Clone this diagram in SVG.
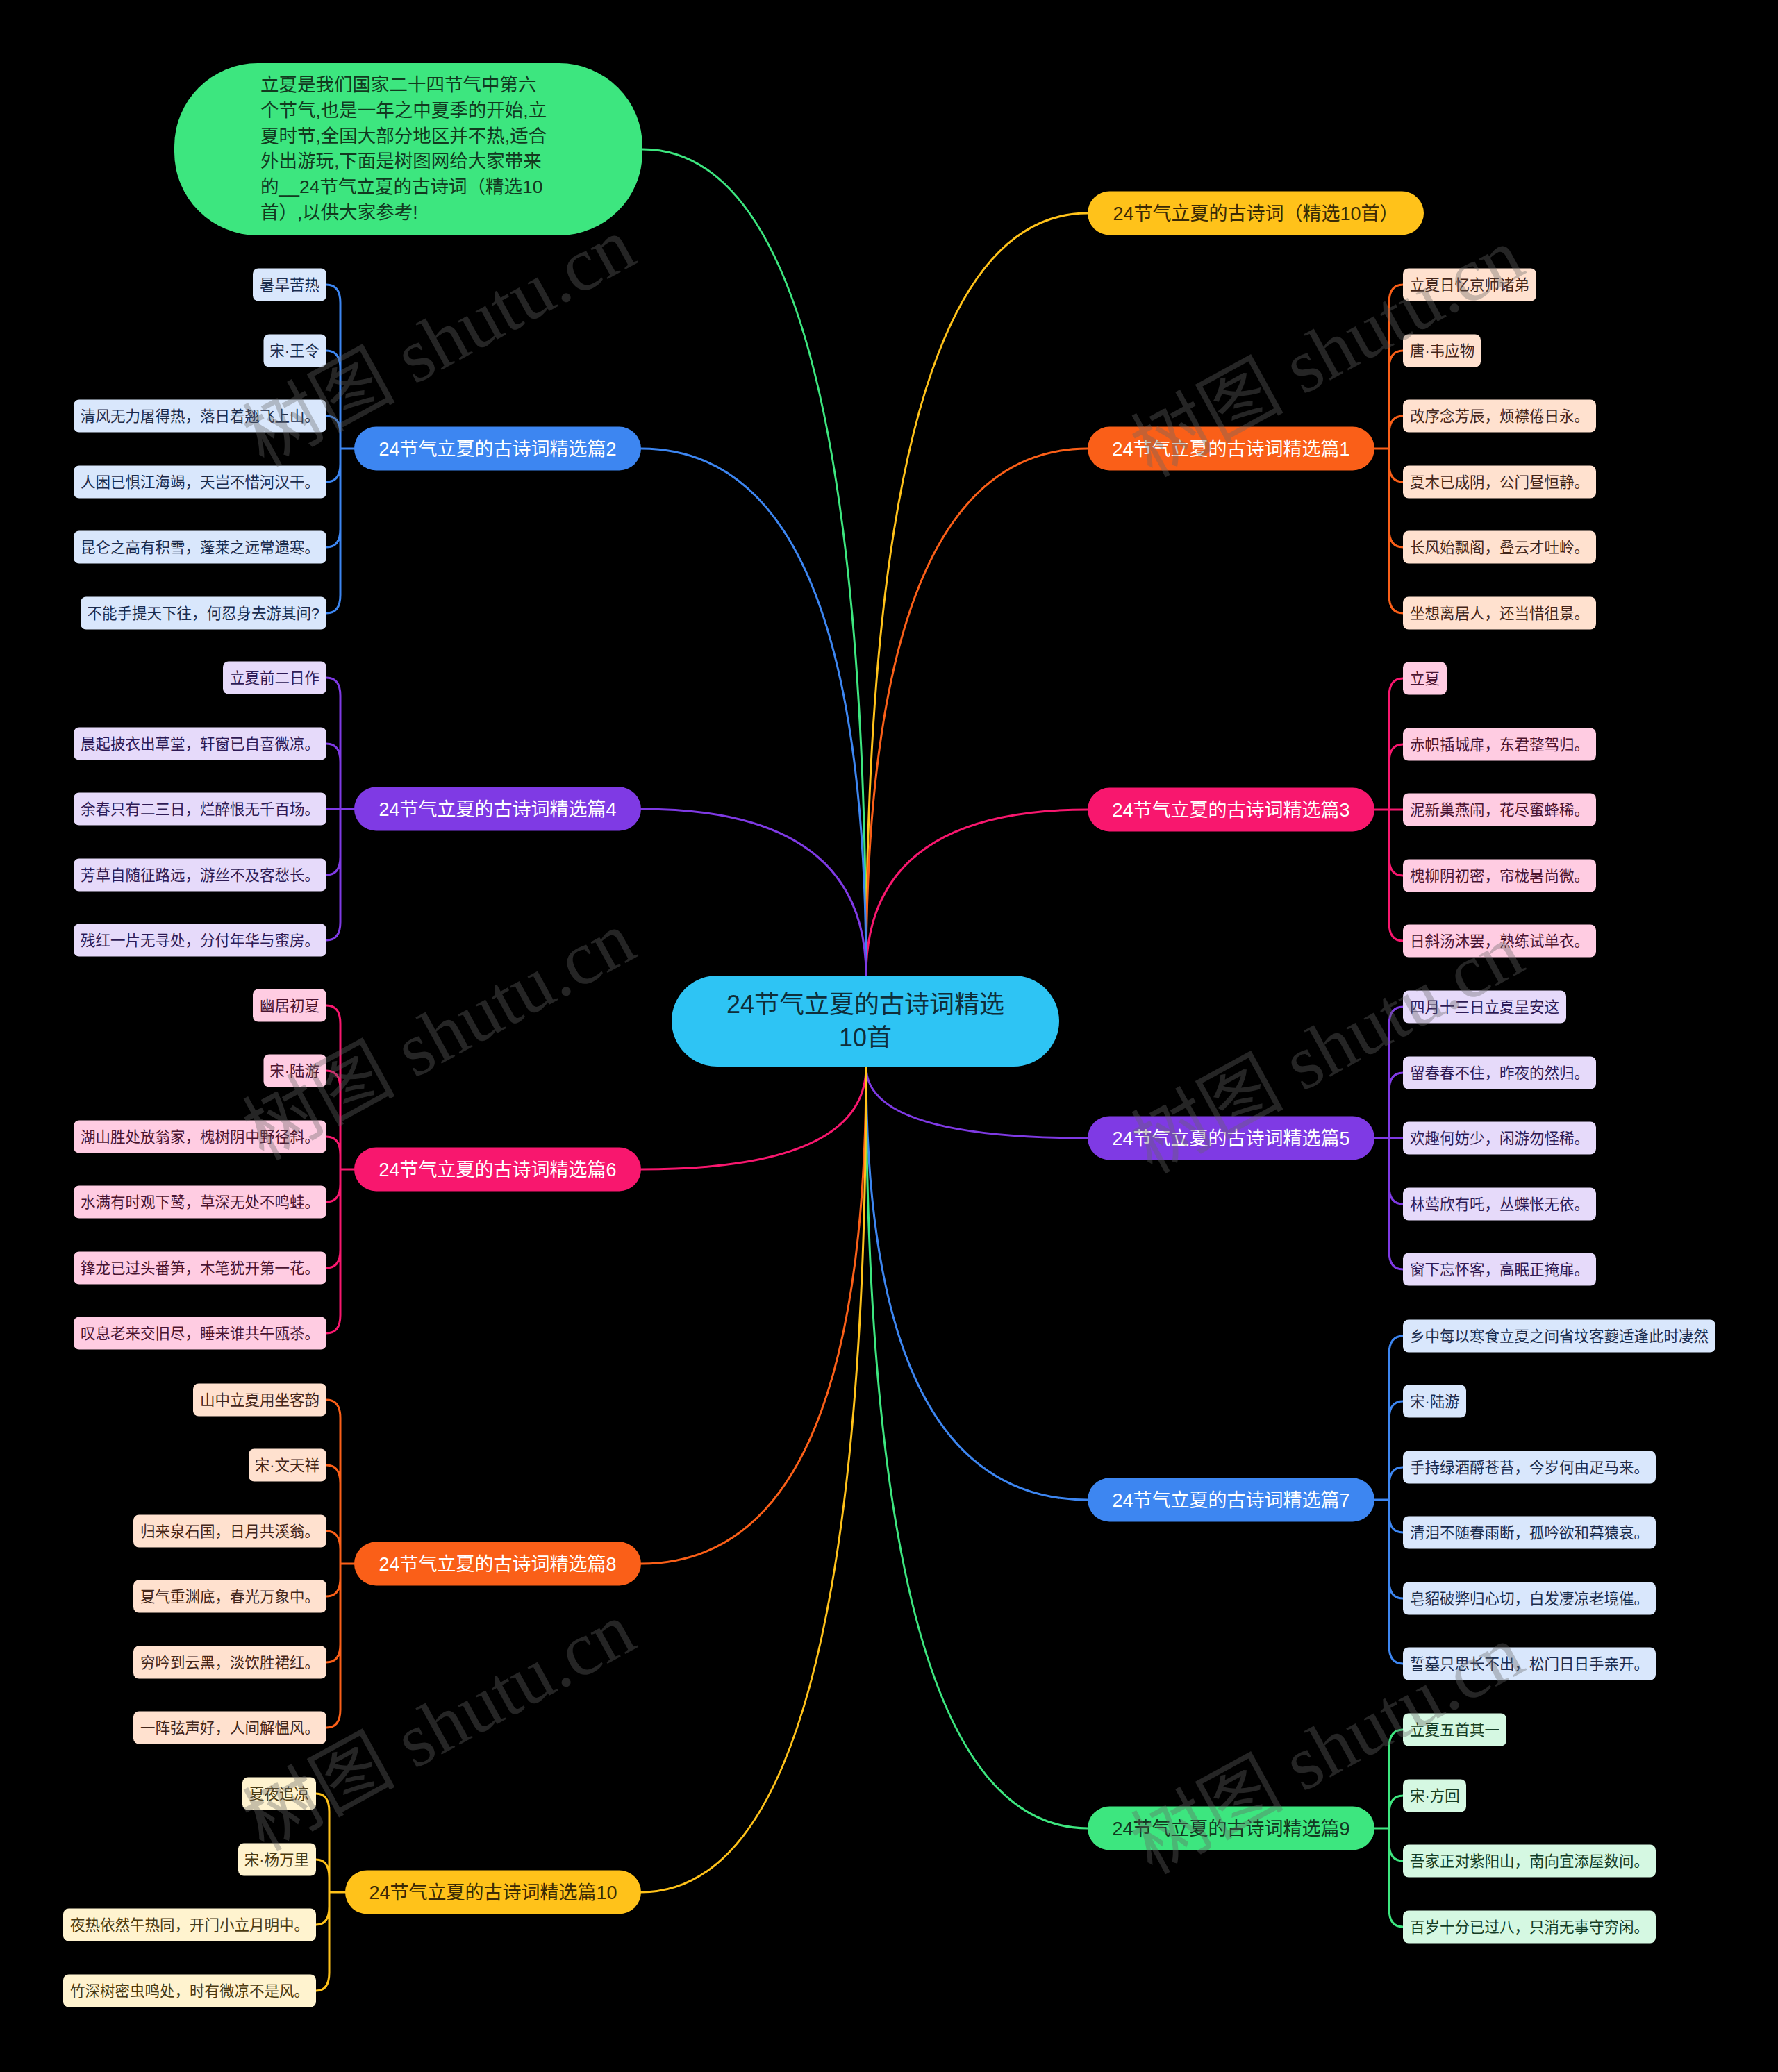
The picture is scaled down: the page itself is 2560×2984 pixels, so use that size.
<svg xmlns="http://www.w3.org/2000/svg" width="2560" height="2984" viewBox="0 0 2560 2984">
<style>
text{font-family:"Liberation Sans","Noto Sans CJK SC",sans-serif}
.c{fill:none;stroke-width:3;stroke-linecap:round}
.mt{font-size:27px;text-anchor:middle}
.lf{font-size:21.5px}
.le{font-size:21.5px;text-anchor:end}
.wm{font-family:"Liberation Serif","Noto Sans CJK SC",serif;font-size:110px;fill:#666;opacity:0.36;text-anchor:middle}
</style>
<rect width="2560" height="2984" fill="#000"/>
<g id="connectors">
<path class="c" stroke="#3DE67F" d="M925,215 Q1247,215 1247,1405"/>
<path class="c" stroke="#FFC21A" d="M1247,1405 Q1247,307 1566,307"/>
<path class="c" stroke="#FA5F18" d="M1247,1405 Q1247,646 1566,646"/>
<path class="c" stroke="#F8176E" d="M1247,1405 Q1247,1166 1566,1166"/>
<path class="c" stroke="#3D86F1" d="M1247,1405 Q1247,646 923,646"/>
<path class="c" stroke="#7F3AE4" d="M1247,1405 Q1247,1165 923,1165"/>
<path class="c" stroke="#7F3AE4" d="M1247,1536 Q1247,1639 1566,1639"/>
<path class="c" stroke="#F8176E" d="M1247,1536 Q1247,1684 923,1684"/>
<path class="c" stroke="#3D86F1" d="M1247,1536 Q1247,2160 1566,2160"/>
<path class="c" stroke="#FA5F18" d="M1247,1536 Q1247,2252 923,2252"/>
<path class="c" stroke="#3DE67F" d="M1247,1536 Q1247,2633 1566,2633"/>
<path class="c" stroke="#FFC21A" d="M1247,1536 Q1247,2725 923,2725"/>
<path class="c" stroke="#FA5F18" d="M1979,646 H2000 M2000,646 V436 Q2000,410 2020,410 M2000,646 V531 Q2000,505 2020,505 M2000,646 V625 Q2000,599 2020,599 M2000,646 V668 Q2000,694 2020,694 M2000,646 V762 Q2000,788 2020,788 M2000,646 V857 Q2000,883 2020,883"/>
<path class="c" stroke="#F8176E" d="M1979,1166 H2020 M2000,1166 V1003 Q2000,977 2020,977 M2000,1166 V1098 Q2000,1072 2020,1072 M2000,1166 V1235 Q2000,1261 2020,1261 M2000,1166 V1329 Q2000,1355 2020,1355"/>
<path class="c" stroke="#7F3AE4" d="M1979,1639 H2020 M2000,1639 V1476 Q2000,1450 2020,1450 M2000,1639 V1571 Q2000,1545 2020,1545 M2000,1639 V1708 Q2000,1734 2020,1734 M2000,1639 V1802 Q2000,1828 2020,1828"/>
<path class="c" stroke="#3D86F1" d="M1979,2160 H2000 M2000,2160 V1950 Q2000,1924 2020,1924 M2000,2160 V2044 Q2000,2018 2020,2018 M2000,2160 V2139 Q2000,2113 2020,2113 M2000,2160 V2181 Q2000,2207 2020,2207 M2000,2160 V2276 Q2000,2302 2020,2302 M2000,2160 V2370 Q2000,2396 2020,2396"/>
<path class="c" stroke="#3DE67F" d="M1979,2633 H2000 M2000,2633 V2517 Q2000,2491 2020,2491 M2000,2633 V2612 Q2000,2586 2020,2586 M2000,2633 V2654 Q2000,2680 2020,2680 M2000,2633 V2749 Q2000,2775 2020,2775"/>
<path class="c" stroke="#3D86F1" d="M510,646 H490 M490,646 V436 Q490,410 470,410 M490,646 V531 Q490,505 470,505 M490,646 V625 Q490,599 470,599 M490,646 V668 Q490,694 470,694 M490,646 V762 Q490,788 470,788 M490,646 V857 Q490,883 470,883"/>
<path class="c" stroke="#7F3AE4" d="M510,1165 H470 M490,1165 V1002 Q490,976 470,976 M490,1165 V1097 Q490,1071 470,1071 M490,1165 V1234 Q490,1260 470,1260 M490,1165 V1328 Q490,1354 470,1354"/>
<path class="c" stroke="#F8176E" d="M510,1684 H490 M490,1684 V1474 Q490,1448 470,1448 M490,1684 V1568 Q490,1542 470,1542 M490,1684 V1663 Q490,1637 470,1637 M490,1684 V1705 Q490,1731 470,1731 M490,1684 V1800 Q490,1826 470,1826 M490,1684 V1894 Q490,1920 470,1920"/>
<path class="c" stroke="#FA5F18" d="M510,2252 H490 M490,2252 V2042 Q490,2016 470,2016 M490,2252 V2136 Q490,2110 470,2110 M490,2252 V2231 Q490,2205 470,2205 M490,2252 V2273 Q490,2299 470,2299 M490,2252 V2368 Q490,2394 470,2394 M490,2252 V2462 Q490,2488 470,2488"/>
<path class="c" stroke="#FFC21A" d="M497,2725 H474 M474,2725 V2609 Q474,2583 455,2583 M474,2725 V2704 Q474,2678 455,2678 M474,2725 V2746 Q474,2772 455,2772 M474,2725 V2841 Q474,2867 455,2867"/>
</g>

<g id="root">
<rect x="967" y="1405" width="558" height="131" rx="65.5" fill="#2EC4F4"/>
<text x="1246" y="1459" font-size="36" text-anchor="middle" fill="#0f2e3a">24节气立夏的古诗词精选</text>
<text x="1246" y="1507" font-size="36" text-anchor="middle" fill="#0f2e3a">10首</text>
</g>

<g id="intro">
<rect x="251" y="91" width="674" height="248" rx="120" fill="#3DE67F"/>
<g font-size="26.5" fill="#123a1f">
<text x="375" y="131">立夏是我们国家二十四节气中第六</text>
<text x="375" y="168">个节气,也是一年之中夏季的开始,立</text>
<text x="375" y="205">夏时节,全国大部分地区并不热,适合</text>
<text x="375" y="241">外出游玩,下面是树图网给大家带来</text>
<text x="375" y="278">的__24节气立夏的古诗词（精选10</text>
<text x="375" y="315">首）,以供大家参考!</text>
</g>
</g>

<g id="main-title">
<rect x="1566" y="275.5" width="484" height="63" rx="31.5" fill="#FFC21A"/>
<text class="mt" x="1808" y="317" fill="#3a2a05">24节气立夏的古诗词（精选10首）</text>
</g>

<g id="p1">
<rect x="1566" y="614.5" width="413" height="63" rx="31.5" fill="#FA5F18"/>
<text class="mt" x="1772.5" y="656" fill="#fff">24节气立夏的古诗词精选篇1</text>
<g fill="#FFE1CF">
<rect x="2020" y="386.5" width="192" height="47" rx="8"/>
<rect x="2020" y="481.5" width="112" height="47" rx="8"/>
<rect x="2020" y="575.5" width="278" height="47" rx="8"/>
<rect x="2020" y="670.5" width="278" height="47" rx="8"/>
<rect x="2020" y="764.5" width="278" height="47" rx="8"/>
<rect x="2020" y="859.5" width="278" height="47" rx="8"/>
</g>
<g fill="#43261a">
<text class="lf" x="2030" y="418">立夏日忆京师诸弟</text>
<text class="lf" x="2030" y="513">唐·韦应物</text>
<text class="lf" x="2030" y="607">改序念芳辰，烦襟倦日永。</text>
<text class="lf" x="2030" y="702">夏木已成阴，公门昼恒静。</text>
<text class="lf" x="2030" y="796">长风始飘阁，叠云才吐岭。</text>
<text class="lf" x="2030" y="891">坐想离居人，还当惜徂景。</text>
</g>
</g>

<g id="p3">
<rect x="1566" y="1134.5" width="413" height="63" rx="31.5" fill="#F8176E"/>
<text class="mt" x="1772.5" y="1176" fill="#fff">24节气立夏的古诗词精选篇3</text>
<g fill="#FFCCE2">
<rect x="2020" y="953.5" width="63" height="47" rx="8"/>
<rect x="2020" y="1048.5" width="278" height="47" rx="8"/>
<rect x="2020" y="1142.5" width="278" height="47" rx="8"/>
<rect x="2020" y="1237.5" width="278" height="47" rx="8"/>
<rect x="2020" y="1331.5" width="278" height="47" rx="8"/>
</g>
<g fill="#4a1430">
<text class="lf" x="2030" y="985">立夏</text>
<text class="lf" x="2030" y="1080">赤帜插城扉，东君整驾归。</text>
<text class="lf" x="2030" y="1174">泥新巢燕闹，花尽蜜蜂稀。</text>
<text class="lf" x="2030" y="1269">槐柳阴初密，帘栊暑尚微。</text>
<text class="lf" x="2030" y="1363">日斜汤沐罢，熟练试单衣。</text>
</g>
</g>

<g id="p5">
<rect x="1566" y="1607.5" width="413" height="63" rx="31.5" fill="#7F3AE4"/>
<text class="mt" x="1772.5" y="1649" fill="#fff">24节气立夏的古诗词精选篇5</text>
<g fill="#E6DAFA">
<rect x="2020" y="1426.5" width="235" height="47" rx="8"/>
<rect x="2020" y="1521.5" width="278" height="47" rx="8"/>
<rect x="2020" y="1615.5" width="278" height="47" rx="8"/>
<rect x="2020" y="1710.5" width="278" height="47" rx="8"/>
<rect x="2020" y="1804.5" width="278" height="47" rx="8"/>
</g>
<g fill="#2e1a55">
<text class="lf" x="2030" y="1458">四月十三日立夏呈安这</text>
<text class="lf" x="2030" y="1553">留春春不住，昨夜的然归。</text>
<text class="lf" x="2030" y="1647">欢趣何妨少，闲游勿怪稀。</text>
<text class="lf" x="2030" y="1742">林莺欣有吒，丛蝶怅无依。</text>
<text class="lf" x="2030" y="1836">窗下忘怀客，高眠正掩扉。</text>
</g>
</g>

<g id="p7">
<rect x="1566" y="2128.5" width="413" height="63" rx="31.5" fill="#3D86F1"/>
<text class="mt" x="1772.5" y="2170" fill="#fff">24节气立夏的古诗词精选篇7</text>
<g fill="#D9E7FC">
<rect x="2020" y="1900.5" width="450" height="47" rx="8"/>
<rect x="2020" y="1994.5" width="91" height="47" rx="8"/>
<rect x="2020" y="2089.5" width="364" height="47" rx="8"/>
<rect x="2020" y="2183.5" width="364" height="47" rx="8"/>
<rect x="2020" y="2278.5" width="364" height="47" rx="8"/>
<rect x="2020" y="2372.5" width="364" height="47" rx="8"/>
</g>
<g fill="#1b2c4d">
<text class="lf" x="2030" y="1932">乡中每以寒食立夏之间省坟客夔适逢此时凄然</text>
<text class="lf" x="2030" y="2026">宋·陆游</text>
<text class="lf" x="2030" y="2121">手持绿酒酹苍苔，今岁何由疋马来。</text>
<text class="lf" x="2030" y="2215">清泪不随春雨断，孤吟欲和暮猿哀。</text>
<text class="lf" x="2030" y="2310">皂貂破弊归心切，白发凄凉老境催。</text>
<text class="lf" x="2030" y="2404">誓墓只思长不出，松门日日手亲开。</text>
</g>
</g>

<g id="p9">
<rect x="1566" y="2601.5" width="413" height="63" rx="31.5" fill="#3DE67F"/>
<text class="mt" x="1772.5" y="2643" fill="#123a1f">24节气立夏的古诗词精选篇9</text>
<g fill="#D5F8E2">
<rect x="2020" y="2467.5" width="149" height="47" rx="8"/>
<rect x="2020" y="2562.5" width="91" height="47" rx="8"/>
<rect x="2020" y="2656.5" width="364" height="47" rx="8"/>
<rect x="2020" y="2751.5" width="364" height="47" rx="8"/>
</g>
<g fill="#143d25">
<text class="lf" x="2030" y="2499">立夏五首其一</text>
<text class="lf" x="2030" y="2594">宋·方回</text>
<text class="lf" x="2030" y="2688">吾家正对紫阳山，南向宜添屋数间。</text>
<text class="lf" x="2030" y="2783">百岁十分已过八，只消无事守穷闲。</text>
</g>
</g>

<g id="p2">
<rect x="510" y="614.5" width="413" height="63" rx="31.5" fill="#3D86F1"/>
<text class="mt" x="716.5" y="656" fill="#fff">24节气立夏的古诗词精选篇2</text>
<g fill="#D9E7FC">
<rect x="364" y="386.5" width="106" height="47" rx="8"/>
<rect x="379.5" y="481.5" width="90.5" height="47" rx="8"/>
<rect x="106" y="575.5" width="364" height="47" rx="8"/>
<rect x="106" y="670.5" width="364" height="47" rx="8"/>
<rect x="106" y="764.5" width="364" height="47" rx="8"/>
<rect x="116" y="859.5" width="354" height="47" rx="8"/>
</g>
<g fill="#1b2c4d">
<text class="le" x="460" y="418">暑旱苦热</text>
<text class="le" x="460" y="513">宋·王令</text>
<text class="le" x="460" y="607">清风无力屠得热，落日着翘飞上山。</text>
<text class="le" x="460" y="702">人困已惧江海竭，天岂不惜河汉干。</text>
<text class="le" x="460" y="796">昆仑之高有积雪，蓬莱之远常遗寒。</text>
<text class="le" x="460" y="891">不能手提天下往，何忍身去游其间?</text>
</g>
</g>

<g id="p4">
<rect x="510" y="1133.5" width="413" height="63" rx="31.5" fill="#7F3AE4"/>
<text class="mt" x="716.5" y="1175" fill="#fff">24节气立夏的古诗词精选篇4</text>
<g fill="#E6DAFA">
<rect x="321" y="952.5" width="149" height="47" rx="8"/>
<rect x="106" y="1047.5" width="364" height="47" rx="8"/>
<rect x="106" y="1141.5" width="364" height="47" rx="8"/>
<rect x="106" y="1236.5" width="364" height="47" rx="8"/>
<rect x="106" y="1330.5" width="364" height="47" rx="8"/>
</g>
<g fill="#2e1a55">
<text class="le" x="460" y="984">立夏前二日作</text>
<text class="le" x="460" y="1079">晨起披衣出草堂，轩窗已自喜微凉。</text>
<text class="le" x="460" y="1173">余春只有二三日，烂醉恨无千百场。</text>
<text class="le" x="460" y="1268">芳草自随征路远，游丝不及客愁长。</text>
<text class="le" x="460" y="1362">残红一片无寻处，分付年华与蜜房。</text>
</g>
</g>

<g id="p6">
<rect x="510" y="1652.5" width="413" height="63" rx="31.5" fill="#F8176E"/>
<text class="mt" x="716.5" y="1694" fill="#fff">24节气立夏的古诗词精选篇6</text>
<g fill="#FFCCE2">
<rect x="364" y="1424.5" width="106" height="47" rx="8"/>
<rect x="379.5" y="1518.5" width="90.5" height="47" rx="8"/>
<rect x="106" y="1613.5" width="364" height="47" rx="8"/>
<rect x="106" y="1707.5" width="364" height="47" rx="8"/>
<rect x="106" y="1802.5" width="364" height="47" rx="8"/>
<rect x="106" y="1896.5" width="364" height="47" rx="8"/>
</g>
<g fill="#4a1430">
<text class="le" x="460" y="1456">幽居初夏</text>
<text class="le" x="460" y="1550">宋·陆游</text>
<text class="le" x="460" y="1645">湖山胜处放翁家，槐树阴中野径斜。</text>
<text class="le" x="460" y="1739">水满有时观下鹭，草深无处不鸣蛙。</text>
<text class="le" x="460" y="1834">箨龙已过头番笋，木笔犹开第一花。</text>
<text class="le" x="460" y="1928">叹息老来交旧尽，睡来谁共午瓯茶。</text>
</g>
</g>

<g id="p8">
<rect x="510" y="2220.5" width="413" height="63" rx="31.5" fill="#FA5F18"/>
<text class="mt" x="716.5" y="2262" fill="#fff">24节气立夏的古诗词精选篇8</text>
<g fill="#FFE1CF">
<rect x="278" y="1992.5" width="192" height="47" rx="8"/>
<rect x="358" y="2086.5" width="112" height="47" rx="8"/>
<rect x="192" y="2181.5" width="278" height="47" rx="8"/>
<rect x="192" y="2275.5" width="278" height="47" rx="8"/>
<rect x="192" y="2370.5" width="278" height="47" rx="8"/>
<rect x="192" y="2464.5" width="278" height="47" rx="8"/>
</g>
<g fill="#43261a">
<text class="le" x="460" y="2024">山中立夏用坐客韵</text>
<text class="le" x="460" y="2118">宋·文天祥</text>
<text class="le" x="460" y="2213">归来泉石国，日月共溪翁。</text>
<text class="le" x="460" y="2307">夏气重渊底，春光万象中。</text>
<text class="le" x="460" y="2402">穷吟到云黑，淡饮胜裙红。</text>
<text class="le" x="460" y="2496">一阵弦声好，人间解愠风。</text>
</g>
</g>

<g id="p10">
<rect x="497" y="2693.5" width="426" height="63" rx="31.5" fill="#FFC21A"/>
<text class="mt" x="710" y="2735" fill="#3a2a05">24节气立夏的古诗词精选篇10</text>
<g fill="#FFF3CF">
<rect x="349" y="2559.5" width="106" height="47" rx="8"/>
<rect x="343" y="2654.5" width="112" height="47" rx="8"/>
<rect x="91" y="2748.5" width="364" height="47" rx="8"/>
<rect x="91" y="2843.5" width="364" height="47" rx="8"/>
</g>
<g fill="#4a3a10">
<text class="le" x="445" y="2591">夏夜追凉</text>
<text class="le" x="445" y="2686">宋·杨万里</text>
<text class="le" x="445" y="2780">夜热依然午热同，开门小立月明中。</text>
<text class="le" x="445" y="2875">竹深树密虫鸣处，时有微凉不是风。</text>
</g>
</g>

<g id="watermark">
<text class="wm" transform="translate(650,525) rotate(-28.7)">树图 shutu.cn</text>
<text class="wm" transform="translate(650,1524) rotate(-28.7)">树图 shutu.cn</text>
<text class="wm" transform="translate(650,2519) rotate(-28.7)">树图 shutu.cn</text>
<text class="wm" transform="translate(1929,540) rotate(-28.7)">树图 shutu.cn</text>
<text class="wm" transform="translate(1929,1543) rotate(-28.7)">树图 shutu.cn</text>
<text class="wm" transform="translate(1929,2552) rotate(-28.7)">树图 shutu.cn</text>
</g>
</svg>
